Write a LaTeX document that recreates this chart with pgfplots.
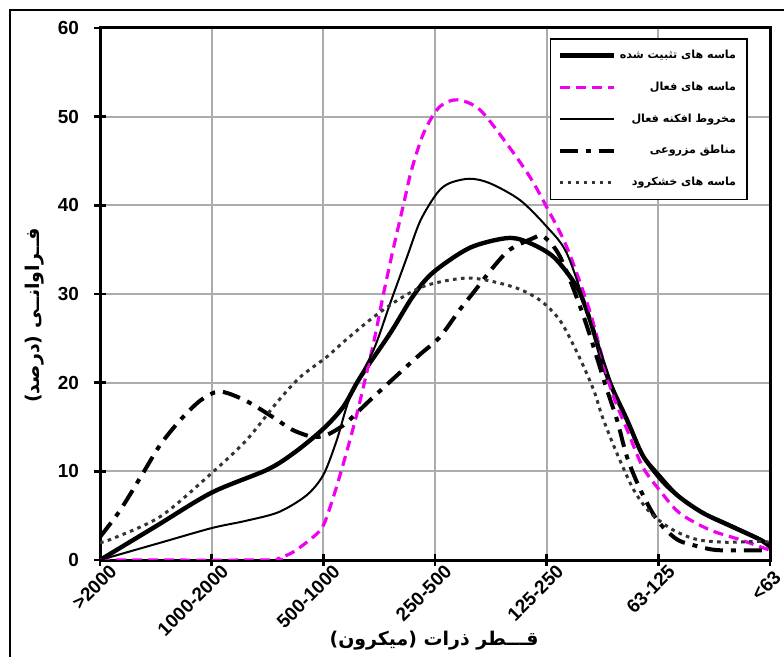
\documentclass[border=0pt]{standalone}
\usepackage{fontspec}
\setmainfont{Liberation Sans}
\newfontfamily\fa[Script=Arabic]{DejaVu Sans}
\TeXXeTstate=1
\usepackage{pgfplots}
\pgfplotsset{compat=1.18}
\definecolor{mag}{RGB}{240,0,240}
\begin{document}
\begin{tikzpicture}
\useasboundingbox (0bp,0bp) rectangle (392bp,328.5bp);
\draw[line width=0.7bp] (5bp,-5bp) -- (5bp,323.5bp) -- (400bp,323.5bp);
\begin{axis}[
  at={(50bp,48.5bp)}, anchor=south west,
  scale only axis, width=335bp, height=266bp,
  xmin=0, xmax=6, ymin=0, ymax=60,
  xtick={0,1,2,3,4,5,6},
  xticklabels={>2000,1000-2000,500-1000,250-500,125-250,63-125,<63\hspace*{4bp}},
  ytick={0,10,20,30,40,50,60},
  xtick pos=lower, ytick pos=left,
  tick align=center, major tick length=6bp,
  tick style={line width=1.2bp, black},
  axis line style={line width=1.5bp},
  grid=major, grid style={gray!65, line width=1bp},
  /pgf/number format/assume math mode=true,
  yticklabel style={font=\bfseries\fontsize{9.5}{11}\selectfont, xshift=-4bp},
  xticklabel style={font=\bfseries\fontsize{9.5}{11}\selectfont, rotate=45, anchor=north east, xshift=5bp, yshift=-1bp, inner sep=1bp},
  ylabel={\fa\bfseries\beginR فــراوانــی (درصد)\endR},
  ylabel style={at={(axis description cs:-0.097,0.46)}, anchor=center, rotate=0},
  xlabel={\fa\bfseries\beginR قـــطر ذرات (میکرون)\endR},
  xlabel style={at={(axis description cs:0.4985,-0.152)}, anchor=center},
  label style={font=\fa\bfseries\fontsize{9.5}{11}\selectfont},
  legend image code/.code={\draw[#1] (0bp,0bp) -- (27bp,0bp);},
  legend style={at={(0.967,0.981)}, anchor=north east, draw=black, line width=0.8bp,
    font=\fa\bfseries\fontsize{5.6}{7}\selectfont, row sep=6.2bp, inner sep=3.5bp,
    cells={anchor=east}},
  legend cell align=right,
]
% stabilized sands
\addplot[black, line width=2.2bp, smooth, tension=0.5] coordinates {
(0,0) (0.5,3.8) (1,7.6) (1.5,10.2) (1.75,12.2) (2,14.8) (2.18,17.3) (2.33,20.6)
(2.6,25.6) (2.8,29.7) (2.98,32.4) (3.31,35.2) (3.64,36.3) (3.82,35.9)
(4.06,34.2) (4.27,30.8) (4.39,27) (4.54,20.8) (4.72,15.8) (4.86,11.8) (5.0,9.6)
(5.17,7.3) (5.4,5.3) (5.67,3.7) (5.91,2.3) (6,1.5)};
\addlegendentry{\beginR ماسه های تثبیت شده\endR}
% active sands
\addplot[mag, line width=1.6bp, dash pattern=on 5bp off 3bp, smooth, tension=0.5] coordinates {
(0,0) (1.5,0) (1.6,0.2) (1.73,0.9) (1.91,2.6) (2.0,3.9) (2.09,7.1) (2.18,10.9)
(2.27,15.0) (2.33,18) (2.45,24.5) (2.54,30.1) (2.63,35.3) (2.72,40.2) (2.79,44)
(2.9,48.2) (3.04,51.1)
(3.2,51.9) (3.4,50.8) (3.64,47) (3.85,43.2) (4.0,39.8) (4.18,35.3) (4.39,27.9)
(4.57,19.5) (4.72,14.7) (4.86,10.5) (5.01,7.9) (5.19,5.3) (5.46,3.4) (5.73,2.3) (6,1.1)};
\addlegendentry{\beginR ماسه های فعال\endR}
% active alluvial fans
\addplot[black, line width=1bp, smooth, tension=0.5] coordinates {
(0,0) (0.5,1.8) (1,3.6) (1.3,4.4) (1.6,5.4) (1.85,7.3) (2,9.6) (2.12,13.5)
(2.24,18.4) (2.45,23.7) (2.6,29) (2.75,34.2) (2.87,38.3) (3.02,41.4) (3.13,42.5)
(3.31,43) (3.49,42.5)
(3.76,40.6) (4.0,37.6) (4.18,34.6) (4.38,27.5) (4.57,20.3) (4.72,15.5) (4.9,10.9)
(5.1,7.9) (5.37,5.6) (5.61,4.2) (5.9,2.5) (6,1.8)};
\addlegendentry{\beginR مخروط افکنه فعال\endR}
% agricultural
\addplot[black, line width=2bp, dash pattern=on 9bp off 4bp on 2.5bp off 4bp, smooth, tension=0.5] coordinates {
(0,2.6) (0.18,5.6) (0.385,9.8) (0.54,13) (0.72,15.8) (0.9,18) (1.07,19) (1.3,18)
(1.55,16.1) (1.72,14.7) (1.9,13.9) (2.03,14.1) (2.18,15.2) (2.3,16.6) (2.45,18.4)
(2.84,22.9) (3.04,25.1) (3.22,28.2) (3.34,30.1) (3.52,33) (3.67,35)
(3.88,36.3) (3.97,36.5) (4.12,34.2) (4.33,27.5) (4.54,19.2) (4.63,15.8) (4.72,11.6)
(4.84,7.9) (4.99,4.5) (5.17,2.3) (5.37,1.5) (5.55,1.1) (6,1.1)};
\addlegendentry{\beginR مناطق مزروعی\endR}
% dry river sands
\addplot[black!80, line width=1.5bp, dash pattern=on 1.8bp off 2.2bp, smooth, tension=0.5] coordinates {
(0,2) (0.09,2.3) (0.54,4.9) (1,9.8) (1.31,13.5) (1.58,17.7) (1.79,20.6) (2.03,22.9)
(2.2,24.8) (2.45,27.4) (2.69,29.5) (2.93,31) (3.31,31.8) (3.7,30.8) (3.94,29.3) (4.12,27)
(4.28,23.2) (4.42,19.2) (4.5,16.1) (4.63,12) (4.78,7.9) (4.93,5.3) (5.13,3.4)
(5.35,2.3) (5.61,2.0) (5.9,2.1) (6,2.0)};
\addlegendentry{\beginR ماسه های خشکرود\endR}
\end{axis}
\end{tikzpicture}
\end{document}
